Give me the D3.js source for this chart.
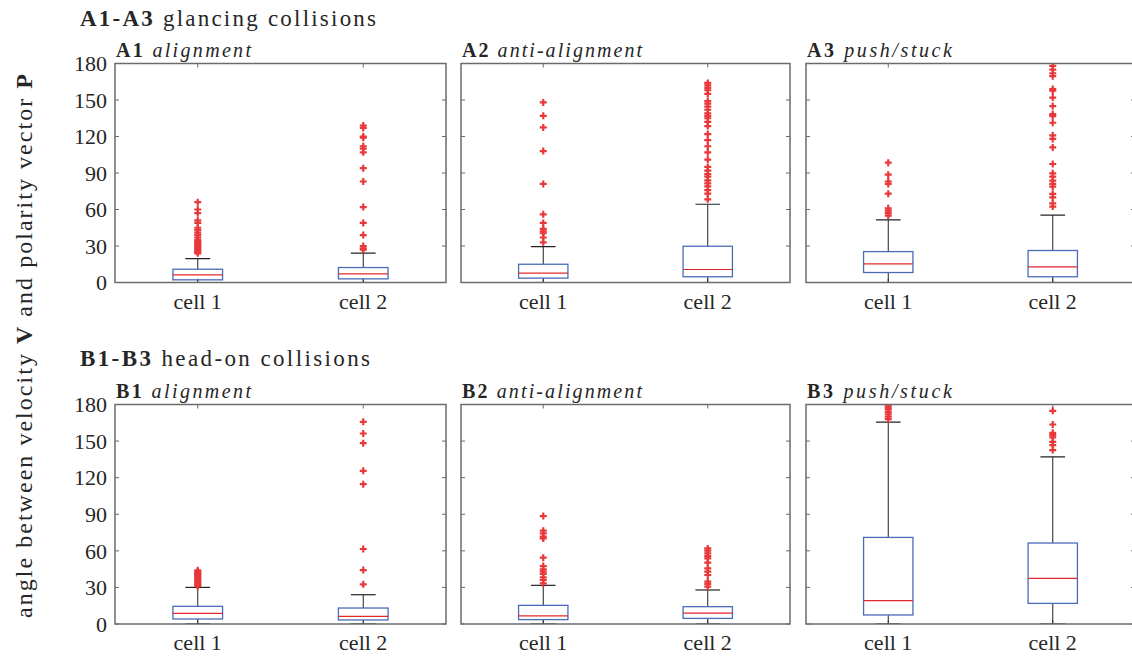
<!DOCTYPE html>
<html>
<head>
<meta charset="utf-8">
<script src="https://cdn.jsdelivr.net/npm/d3@7"></script>
<style>
  body { margin: 0; background: #fff; }
</style>
</head>
<body>
<div id="root"></div>
<script>
// categories and ticks
const cells = ['cell 1', 'cell 2'];
const yTicks = [0, 30, 60, 90, 120, 150, 180];
const rowTitles = [['A1-A3', 'glancing collisions'], ['B1-B3', 'head-on collisions']];
const panelIds = ['A1', 'A2', 'A3', 'B1', 'B2', 'B3'];
const panelNames = ['alignment', 'anti-alignment', 'push/stuck', 'alignment', 'anti-alignment', 'push/stuck'];

// box statistics per panel, [cell 1, cell 2]
const q1 = [[2.2, 3.0], [3.6, 4.7], [8.2, 4.7], [4.1, 3.3], [3.6, 4.6], [7.4, 16.9]];
const medians = [[6.3, 7.1], [7.7, 10.7], [15.3, 12.9], [8.7, 6.3], [6.6, 9.0], [19.1, 37.4]];
const q3 = [[10.9, 12.3], [15.0, 29.8], [25.4, 26.3], [14.5, 13.1], [15.3, 14.2], [71.0, 66.4]];
const whiskLo = [[0, 0], [0, 0], [0, 0], [0, 0], [0, 0], [0, 0]];
const whiskHi = [[19.7, 24.1], [29.5, 64.3], [51.4, 55.3], [30.0, 24.0], [31.7, 27.9], [165.5, 137.1]];

// outliers per panel
const outA1 = [
  [66, 60, 57, 51, 49, 45, 43, 41, 39, 37, 35, 34, 33, 32, 31, 30, 29, 28, 27, 26, 25, 24],
  [129, 127, 120, 119, 112, 110, 107, 94, 83, 62, 49, 39, 30, 28, 27]
];
const outA2 = [
  [148, 137, 127.5, 108, 81, 56, 49, 44, 42, 40.5, 37, 33],
  [164, 162, 160, 158, 155, 149, 147, 144.5, 142, 139, 137, 135, 132, 128.6, 122, 117, 112,
   107, 101, 95, 92, 89, 87, 84, 81.5, 79, 76, 73, 68.4]
];
const outA3 = [
  [98.5, 88.6, 83, 81, 73, 61, 59, 57, 55],
  [178, 175, 172, 169.6, 159, 157.6, 152, 145, 138.4, 136.8, 131.3, 121, 118, 111, 97.4,
   89.7, 87, 83.7, 81, 78.8, 72.8, 70, 65, 62.4]
];
const outB1 = [
  [44, 43, 42, 41, 40, 39, 38, 37, 36, 35, 34, 33, 32, 31],
  [165.8, 156.2, 148.3, 125.6, 114.7, 61.5, 44.2, 32.5]
];
const outB2 = [
  [88.5, 76.5, 74.3, 71.6, 70.2, 54.4, 47.5, 44.8, 42.9, 41, 38.2, 36.1, 33.3],
  [62, 60.1, 57.9, 55.7, 53.8, 50.3, 45.6, 42.9, 40.2, 34.7, 32.8, 30.6]
];
const outB3 = [
  [179, 177.5, 176, 174, 172, 170, 168],
  [174.8, 163.6, 156.8, 154.9, 153, 149.4, 146.7, 142.6]
];
const outliers = [outA1, outA2, outA3, outB1, outB2, outB3];

const width = 1132, height = 660;
const colX = [[115, 446], [461, 790], [806, 1135]];
const rowY = [[63.5, 282.5], [404.5, 624]];
const axisColor = '#6b6b6b', boxColor = '#4a6cb8', medColor = '#e3282c', outColor = '#e8383a';
const serif = "'Liberation Serif', 'DejaVu Serif', serif";

const svg = d3.select('#root').append('svg')
  .attr('width', width)
  .attr('height', height)
  .attr('font-family', serif)
  .attr('fill', '#262626');

// the original used a wider (LaTeX) face, so spread letters to its width
function fit(sel, target) {
  const n = sel.text().length;
  const w = sel.node().getComputedTextLength();
  sel.attr('letter-spacing', ((target - w) / (n - 1)).toFixed(2));
}

// y axis label
const ylab = svg.append('text')
  .attr('transform', 'translate(31.5,345) rotate(-90)')
  .attr('text-anchor', 'middle')
  .attr('font-family', serif)
  .attr('font-size', 24);
ylab.append('tspan').text('angle between velocity ');
ylab.append('tspan').text('V').attr('font-weight', 700);
ylab.append('tspan').text(' and polarity vector ');
ylab.append('tspan').text('P').attr('font-weight', 700);
fit(ylab, 544);

// row titles
rowTitles.forEach((t, r) => {
  const tt = svg.append('text')
    .attr('x', 80)
    .attr('y', r === 0 ? 26 : 366)
    .attr('font-family', serif)
    .attr('font-size', 23);
  tt.append('tspan').text(t[0]).attr('font-weight', 700);
  tt.append('tspan').text(' ' + t[1]);
  fit(tt, r === 0 ? 296 : 290);
});

const titleW = [135, 180, 145];

panelIds.forEach((id, p) => {
  const r = Math.floor(p / 3), c = p % 3;
  const [x0, x1] = colX[c], [y0, y1] = rowY[r];

  const x = d3.scaleLinear().domain([0.5, 2.5]).range([x0, x1]);
  const y = d3.scaleLinear().domain([0, 180]).range([y1, y0]);

  const g = svg.append('g');

  // clip so outliers at 180 don't spill
  const clipId = 'clip' + p;
  g.append('clipPath').attr('id', clipId)
    .append('rect')
    .attr('x', x0).attr('y', y0)
    .attr('width', x1 - x0).attr('height', y1 - y0);

  // panel title
  const pt = g.append('text')
    .attr('x', x0 + 1)
    .attr('y', y0 - 7)
    .attr('font-family', serif)
    .attr('font-size', 20);
  pt.append('tspan').text(id).attr('font-weight', 700);
  pt.append('tspan').text(' ' + panelNames[p]).attr('font-style', 'italic');
  fit(pt, titleW[c]);

  // ticks inward on all four sides
  const tl = 4;
  g.selectAll('.yt').data(yTicks).enter().append('line')
    .attr('x1', x0).attr('x2', x0 + tl)
    .attr('y1', d => y(d)).attr('y2', d => y(d))
    .attr('stroke', axisColor).attr('stroke-width', 1);
  g.selectAll('.yt2').data(yTicks).enter().append('line')
    .attr('x1', x1).attr('x2', x1 - tl)
    .attr('y1', d => y(d)).attr('y2', d => y(d))
    .attr('stroke', axisColor).attr('stroke-width', 1);
  g.selectAll('.xt').data(cells).enter().append('line')
    .attr('x1', (d, i) => x(i + 1)).attr('x2', (d, i) => x(i + 1))
    .attr('y1', y1).attr('y2', y1 - tl)
    .attr('stroke', axisColor);
  g.selectAll('.xt2').data(cells).enter().append('line')
    .attr('x1', (d, i) => x(i + 1)).attr('x2', (d, i) => x(i + 1))
    .attr('y1', y0).attr('y2', y0 + tl)
    .attr('stroke', axisColor);

  // y tick labels only on the first column
  if (c === 0) {
    g.selectAll('.yl').data(yTicks).enter().append('text')
      .attr('x', x0 - 8)
      .attr('y', d => y(d))
      .attr('dy', '0.35em')
      .attr('text-anchor', 'end')
      .attr('font-family', serif)
      .attr('font-size', 22)
      .text(d => d);
  }
  // x tick labels
  g.selectAll('.xl').data(cells).enter().append('text')
    .attr('x', (d, i) => x(i + 1))
    .attr('y', y1 + 26)
    .attr('text-anchor', 'middle')
    .attr('font-family', serif)
    .attr('font-size', 22)
    .text(d => d);

  const boxes = g.append('g').attr('clip-path', `url(#${clipId})`);
  const hw = 0.15, cw = 0.075;

  cells.forEach((cell, i) => {
    const cx = i + 1;
    // whiskers
    boxes.append('line')
      .attr('x1', x(cx)).attr('x2', x(cx))
      .attr('y1', y(q3[p][i])).attr('y2', y(whiskHi[p][i]))
      .attr('stroke', '#222').attr('stroke-width', 1);
    boxes.append('line')
      .attr('x1', x(cx)).attr('x2', x(cx))
      .attr('y1', y(q1[p][i])).attr('y2', y(whiskLo[p][i]))
      .attr('stroke', '#222').attr('stroke-width', 1);
    [whiskHi[p][i], whiskLo[p][i]].forEach(v => {
      boxes.append('line')
        .attr('x1', x(cx - cw)).attr('x2', x(cx + cw))
        .attr('y1', y(v)).attr('y2', y(v))
        .attr('stroke', '#222').attr('stroke-width', 1.2);
    });
    // box
    boxes.append('rect')
      .attr('x', x(cx - hw))
      .attr('y', y(q3[p][i]))
      .attr('width', x(cx + hw) - x(cx - hw))
      .attr('height', y(q1[p][i]) - y(q3[p][i]))
      .attr('fill', 'none')
      .attr('stroke', boxColor).attr('stroke-width', 1.3);
    // median
    boxes.append('line')
      .attr('x1', x(cx - hw)).attr('x2', x(cx + hw))
      .attr('y1', y(medians[p][i])).attr('y2', y(medians[p][i]))
      .attr('stroke', medColor).attr('stroke-width', 1.2);
    // outliers as '+' markers
    boxes.selectAll('.o' + i).data(outliers[p][i]).enter().append('path')
      .attr('d', d => `M${x(cx) - 3.5},${y(d)}h7M${x(cx)},${y(d) - 3.5}v7`)
      .attr('stroke', outColor).attr('stroke-width', 2.2)
      .attr('fill', 'none');
  });

  // panel frame
  g.append('rect')
    .attr('x', x0).attr('y', y0)
    .attr('width', x1 - x0).attr('height', y1 - y0)
    .attr('fill', 'none')
    .attr('stroke', axisColor).attr('stroke-width', 1.5);
});
</script>
</body>
</html>
